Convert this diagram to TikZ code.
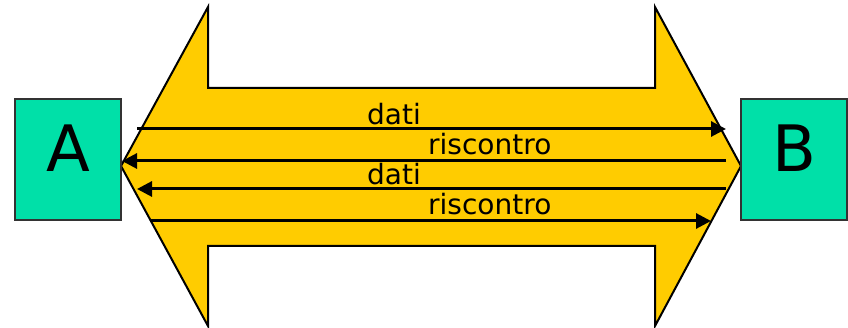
\documentclass[tikz,border=0pt]{standalone}
\usepackage{fontspec}
\setmainfont{DejaVu Sans}
\usetikzlibrary{arrows.meta}
\definecolor{arrowyellow}{RGB}{255,204,0}
\definecolor{boxgreen}{RGB}{0,224,168}
\begin{document}
\begin{tikzpicture}[x=1pt,y=-1pt,
  endbox/.style={draw=black!80,line width=1.5pt,fill=boxgreen,minimum width=106pt,minimum height=121pt,inner sep=0pt,outer sep=0pt},
  bigletter/.style={font=\fontsize{64}{64}\selectfont,anchor=base,inner sep=0pt},
  msglabel/.style={font=\fontsize{28}{28}\selectfont,anchor=base west,inner sep=0pt},
  msg/.style={line width=3pt,-{Triangle[length=15pt,width=15pt]}}]
\useasboundingbox (0,0) rectangle (848,328);
% big double arrow
\draw[fill=arrowyellow,line width=2pt,line join=miter]
  (121,166) -- (208,7) -- (208,88) -- (655,88) -- (655,7) -- (741,166)
  -- (655,326) -- (655,246) -- (208,246) -- (208,326) -- cycle;
% end boxes
\node[endbox] (A) at (68,159.5) {};
\node[endbox] (B) at (794,159.5) {};
\node[bigletter] (Alabel) at (68,172) {A};
\node[bigletter] (Blabel) at (794,172) {B};
% message endpoints
\coordinate (m1s) at (137,129);
\coordinate (m1e) at (726,129);
\coordinate (m2s) at (726,161);
\coordinate (m2e) at (122,161);
\coordinate (m3s) at (726,189);
\coordinate (m3e) at (137,189);
\coordinate (m4s) at (150,221);
\coordinate (m4e) at (711,221);
\draw[msg] (m1s) -- (m1e);
\draw[msg] (m2s) -- (m2e);
\draw[msg] (m3s) -- (m3e);
\draw[msg] (m4s) -- (m4e);
% labels
\node[msglabel] (l1) at (367,125) {dati};
\node[msglabel] (l2) at (428,155) {riscontro};
\node[msglabel] (l3) at (367,185) {dati};
\node[msglabel] (l4) at (428,215) {riscontro};
\end{tikzpicture}
\end{document}
